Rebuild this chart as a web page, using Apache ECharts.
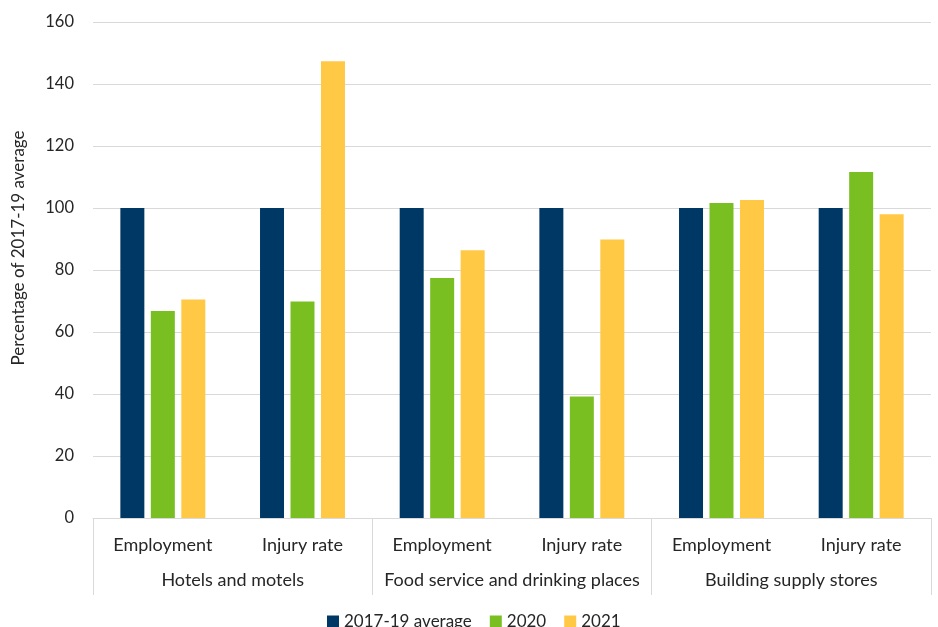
<!DOCTYPE html>
<html>
<head>
<meta charset="utf-8">
<script src="https://cdn.jsdelivr.net/npm/echarts@6/dist/echarts.min.js"></script>
<style>
  html, body { margin: 0; padding: 0; background: #fff; }
  #chart { width: 938px; height: 627px; }
</style>
</head>
<body>
<div id="chart"></div>
<script>
// Measures shown for each industry
const measures = ['Employment', 'Injury rate', 'Employment', 'Injury rate', 'Employment', 'Injury rate'];
// Industry groups, two measures each
const industries = ['Hotels and motels', 'Food service and drinking places', 'Building supply stores'];
// Values as a percentage of the 2017-19 average
const baseline = [100, 100, 100, 100, 100, 100];
const y2020 = [66.8, 69.8, 77.4, 39.2, 101.6, 111.6];
const y2021 = [70.5, 147.3, 86.4, 89.8, 102.6, 98.0];
const seriesNames = ['2017-19 average', '2020', '2021'];

const font = 'Lato, "Open Sans", sans-serif';
const textColor = '#262626';
const lineColor = '#d9d9d9';

const chart = echarts.init(document.getElementById('chart'));

function barSeries(name, data, color) {
  return {
    name: name,
    type: 'bar',
    xAxisIndex: 0,
    data: data,
    barWidth: 24,
    barGap: '27%',
    itemStyle: { color: color },
    emphasis: { disabled: true }
  };
}

chart.setOption({
  animation: false,
  textStyle: { fontFamily: font },
  grid: { left: 93, right: 7, top: 22, bottom: 109 },
  legend: {
    top: 608,
    left: 322,
    itemWidth: 12,
    itemHeight: 12,
    itemGap: 18,
    icon: 'rect',
    textStyle: { fontFamily: font, fontSize: 17, color: textColor },
    data: seriesNames
  },
  xAxis: [
    {
      type: 'category',
      data: measures,
      axisLine: { show: true, lineStyle: { color: lineColor } },
      axisTick: { show: false },
      axisLabel: { interval: 0, fontFamily: font, fontSize: 18, color: textColor, margin: 18 }
    },
    {
      type: 'category',
      data: industries,
      position: 'bottom',
      axisLine: { show: false },
      axisTick: { show: true, interval: 0, length: 77, lineStyle: { color: lineColor } },
      axisLabel: { interval: 0, fontFamily: font, fontSize: 18, color: textColor, margin: 53 },
      splitLine: { show: false }
    }
  ],
  yAxis: {
    type: 'value',
    min: 0,
    max: 160,
    interval: 20,
    name: 'Percentage of 2017-19 average',
    nameLocation: 'middle',
    nameGap: 66,
    nameTextStyle: { fontFamily: font, fontSize: 17, color: textColor, padding: [0, 0, 0, 44] },
    axisLine: { show: false },
    axisTick: { show: false },
    axisLabel: { fontFamily: font, fontSize: 16.5, color: textColor, margin: 19 },
    splitLine: { lineStyle: { color: lineColor } }
  },
  series: [
    barSeries(seriesNames[0], baseline, '#003865'),
    barSeries(seriesNames[1], y2020, '#7abf22'),
    barSeries(seriesNames[2], y2021, '#ffc845')
  ]
});
</script>
</body>
</html>
